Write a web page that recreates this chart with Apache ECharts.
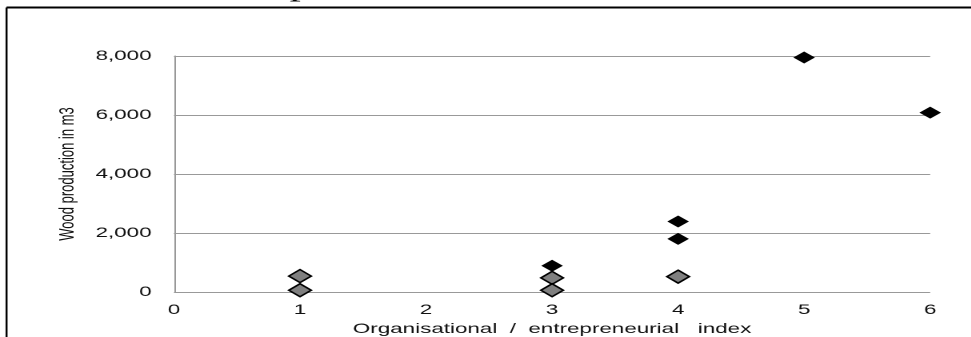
<!DOCTYPE html>
<html>
<head>
<meta charset="utf-8">
<script src="https://cdn.jsdelivr.net/npm/echarts@6/dist/echarts.min.js"></script>
<style>
html,body{margin:0;padding:0;background:#fff;overflow:hidden;width:971px;height:337px;}
#c{width:607px;height:337px;transform:scaleX(1.6);transform-origin:0 0;}
</style>
</head>
<body>
<div id="c"></div>
<script>
var xTicks = [0, 1, 2, 3, 4, 5, 6];
var yTicks = [0, 2000, 4000, 6000, 8000];
var blackX = [3, 4, 4, 5, 6];
var blackY = [890, 1800, 2390, 7950, 6080];
var greyX = [1, 1, 3, 3, 4];
var greyY = [540, 60, 480, 60, 520];

function pairs(xs, ys) { return xs.map(function (x, i) { return [x, ys[i]]; }); }

var S = 1.6; // horizontal stretch applied by CSS
var chart = echarts.init(document.getElementById('c'), null, { devicePixelRatio: 2 });
chart.setOption({
  animation: false,
  backgroundColor: '#fff',
  grid: { left: 174 / S, right: 41 / S, top: 56, bottom: 45, outerBoundsMode: 'none', containLabel: false },
  xAxis: {
    type: 'value', min: xTicks[0], max: xTicks[xTicks.length - 1], interval: 1,
    name: 'Organisational  /  entrepreneurial   index',
    nameLocation: 'middle', nameGap: 29,
    nameTextStyle: { fontFamily: 'Liberation Sans', fontSize: 14, color: '#111' },
    axisLine: { show: false }, axisTick: { show: false },
    splitLine: { show: false },
    axisLabel: { fontFamily: 'Liberation Sans', fontSize: 14, color: '#111', margin: 11 }
  },
  yAxis: {
    type: 'value', min: yTicks[0], max: yTicks[yTicks.length - 1], interval: 2000,
    name: 'Wood production in m3',
    nameLocation: 'middle', nameGap: 50, nameRotate: 90,
    nameTextStyle: { fontFamily: 'Liberation Sans', fontSize: 13, color: '#111' },
    axisLine: { show: true, lineStyle: { color: '#999', width: 1 } },
    axisTick: { show: false },
    splitLine: { show: true, lineStyle: { color: '#999', width: 1 } },
    axisLabel: {
      fontFamily: 'Liberation Sans', fontSize: 14, color: '#111', margin: 14,
      formatter: function (v) { return v.toLocaleString('en-US'); }
    }
  },
  series: [
    {
      type: 'scatter', symbol: 'diamond', symbolSize: [14, 13],
      data: pairs(greyX, greyY),
      itemStyle: { color: '#808080', borderColor: '#000', borderWidth: 1.4, opacity: 1 }
    },
    {
      type: 'scatter', symbol: 'diamond', symbolSize: [13.5, 12],
      data: pairs(blackX, blackY),
      itemStyle: { color: '#000', opacity: 1 }
    }
  ],
  graphic: [
    { type: 'line', shape: { x1: 4.1, y1: 7.5, x2: 607, y2: 7.5 }, style: { stroke: '#000', lineWidth: 2 } },
    { type: 'line', shape: { x1: 4.1, y1: 7.5, x2: 4.1, y2: 337 }, style: { stroke: '#000', lineWidth: 1.25 } },
    { type: 'text', left: 181, top: -26, style: { text: 'p', font: '28px "Liberation Serif"', fill: '#000' } }
  ]
});
</script>
</body>
</html>
